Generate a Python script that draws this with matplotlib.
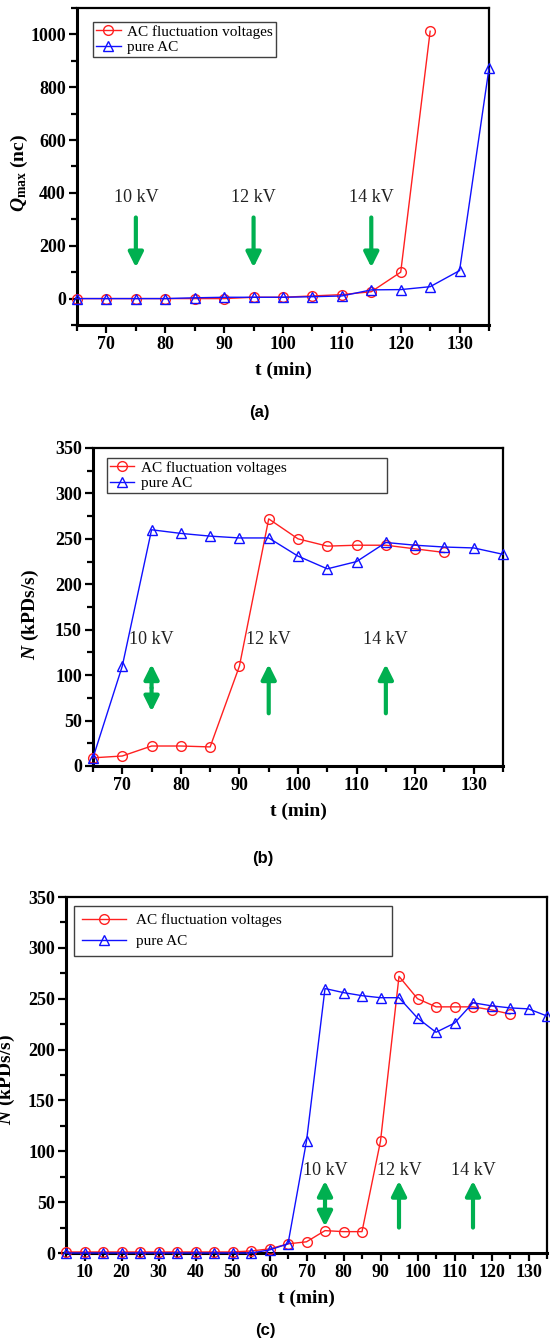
import numpy as np
import matplotlib as mpl
import matplotlib.pyplot as plt

# Data.
t_a_red = [65, 70, 75, 80, 85, 90, 95, 100, 105, 110, 115, 120, 125]
q_red = [0, 0, 0, 0, 0, 0, 5, 5, 10, 15, 26, 100, 1012]
t_a_blue = [65, 70, 75, 80, 85, 90, 95, 100, 105, 110, 115, 120, 125, 130, 135]
q_blue = [0, 0, 0, 0, 3, 5, 5, 5, 7, 10, 33, 34, 45, 106, 872]

t_b_red = [65, 70, 75, 80, 85, 90, 95, 100, 105, 110, 115, 120, 125]
n_b_red = [9, 11, 22, 22, 21, 110, 272, 250, 242, 243, 243, 239, 235]
t_b_blue = [65, 70, 75, 80, 85, 90, 95, 100, 105, 110, 115, 120, 125, 130, 135]
n_b_blue = [9, 110, 260, 256, 253, 251, 251, 231, 217, 225, 246, 243, 241, 240, 233]

t_c_red = list(range(5, 130, 5))
n_c_red = [1, 1, 1, 1, 1, 1, 1, 1, 1, 1, 2, 4, 9, 11, 22, 21, 21, 110, 272,
           250, 242, 242, 242, 239, 235]
t_c_blue = list(range(5, 140, 5))
n_c_blue = [0, 0, 0, 0, 0, 0, 0, 0, 0, 0, 0, 3, 9, 110, 260, 256, 253, 251,
            251, 231, 217, 226, 246, 243, 241, 240, 233]

kv_labels = ['10 kV', '12 kV', '14 kV']
kv_times = [75, 95, 115]

plt.rcParams['font.family'] = ['Liberation Serif', 'DejaVu Serif']
plt.rcParams['mathtext.fontset'] = 'custom'
plt.rcParams['mathtext.it'] = 'Liberation Serif:italic:bold'
plt.rcParams['mathtext.rm'] = 'Liberation Serif:bold'
plt.rcParams['mathtext.bf'] = 'Liberation Serif:bold'

W, H = 550, 1341
fig = plt.figure(figsize=(W / 100, H / 100), dpi=100)

GREEN = '#00b050'
RED = '#ff2020'
BLUE = '#1010ff'


def make_axes(left, right, top, bottom):
    return fig.add_axes([left / W, 1 - bottom / H, (right - left) / W, (bottom - top) / H])


def style(ax, xlim, ylim, xmaj, xmin, ymaj, ymin):
    ax.set_xlim(*xlim)
    ax.set_ylim(*ylim)
    ax.set_xticks(np.arange(xmaj[0], xmaj[1] + 1, xmaj[2]))
    ax.set_xticks(np.arange(xmin[0], xmin[1] + 1, xmin[2]), minor=True)
    ax.set_yticks(np.arange(ymaj[0], ymaj[1] + 1, ymaj[2]))
    ax.set_yticks(np.arange(ymin[0], ymin[1] + 1, ymin[2]), minor=True)
    for s in ['left', 'bottom']:
        ax.spines[s].set_linewidth(2.2)
    for s in ['top', 'right']:
        ax.spines[s].set_linewidth(1.6)
    ax.tick_params(which='both', direction='out', top=False, right=False, width=1.6)
    ax.tick_params(which='major', length=6, labelsize=13, pad=2)
    ax.tick_params(which='minor', length=4)
    for lab in ax.get_xticklabels() + ax.get_yticklabels():
        lab.set_fontweight('bold')
    ax.set_xlabel('t (min)', fontsize=14, fontweight='bold', labelpad=6)


def plot_pair(ax, tr, yr, tb, yb):
    ax.plot(tr, yr, color=RED, lw=1, marker='o', ms=7, mfc='none', mew=1,
            label='AC fluctuation voltages', clip_on=False, zorder=3)
    ax.plot(tb, yb, color=BLUE, lw=1, marker='^', ms=7, mfc='none', mew=1,
            label='pure AC', clip_on=False, zorder=4)


def legend(ax, x0, width, top, **kw):
    leg = ax.legend(loc='upper left', bbox_to_anchor=(x0, 0, width, top),
                    mode='expand', fontsize=11, fancybox=False, framealpha=1,
                    edgecolor='#404040', borderaxespad=0.0, **kw)
    leg.get_frame().set_linewidth(1.0)
    return leg


def arrow(ax, x, y0, y1, style='-|>'):
    ax.annotate('', xy=(x, y1), xytext=(x, y0),
                arrowprops=dict(arrowstyle=style, color=GREEN, lw=3,
                                mutation_scale=22, shrinkA=0, shrinkB=0))


# ---------- (a) ----------
ax = make_axes(77, 489, 8, 325)
plot_pair(ax, t_a_red, q_red, t_a_blue, q_blue)
style(ax, (65, 135), (-100, 1100), (70, 130, 10), (65, 135, 5), (0, 1000, 200), (-100, 1100, 100))
ax.set_ylabel(r'$Q_{\mathrm{max}}$ (nc)', fontsize=14, fontweight='bold')
ax.yaxis.set_label_coords(-0.114, 0.48)
legend(ax, 0.039, 0.444, 0.956, borderpad=0.2, labelspacing=0.1,
       handlelength=1.6, handletextpad=0.4)
for x, lab in zip(kv_times, kv_labels):
    ax.text(x, 383, lab, fontsize=13, ha='center', va='center', color='#222222')
    arrow(ax, x, 307, 118)
fig.text(259 / W, 1 - 413 / H, '(a)', fontsize=12, fontweight='bold',
         family='Liberation Sans', ha='center', va='center')

# ---------- (b) ----------
ax = make_axes(93, 503, 448, 766)
plot_pair(ax, t_b_red, n_b_red, t_b_blue, n_b_blue)
style(ax, (65, 135), (0, 350), (70, 130, 10), (65, 135, 5), (0, 350, 50), (0, 350, 25))
ax.set_ylabel(r'$N$ (kPDs/s)', fontsize=14, fontweight='bold')
ax.yaxis.set_label_coords(-0.127, 0.475)
legend(ax, 0.034, 0.683, 0.969, borderpad=0.2, labelspacing=0.1,
       handlelength=1.6, handletextpad=0.4)
for x, lab in zip(kv_times, kv_labels):
    ax.text(x, 139, lab, fontsize=13, ha='center', va='center', color='#222222')
arrow(ax, 75, 86, 112)
arrow(ax, 75, 86, 60)
arrow(ax, 95, 58, 112)
arrow(ax, 115, 58, 112)
fig.text(263 / W, 1 - 858 / H, '(b)', fontsize=12, fontweight='bold',
         family='Liberation Sans', ha='center', va='center')

# ---------- (c) ----------
ax = make_axes(66, 547, 897, 1253)
plot_pair(ax, t_c_red, n_c_red, t_c_blue, n_c_blue)
style(ax, (5, 135), (0, 350), (10, 130, 10), (5, 135, 5), (0, 350, 50), (0, 350, 25))
ax.set_ylabel(r'$N$ (kPDs/s)', fontsize=14, fontweight='bold')
ax.yaxis.set_label_coords(-0.102, 0.486)
legend(ax, 0.017, 0.661, 0.976, borderpad=0.5, labelspacing=0.5,
       handlelength=2.9, handletextpad=0.65)
for x, lab in zip(kv_times, kv_labels):
    ax.text(x, 81, lab, fontsize=13, ha='center', va='center', color='#222222')
arrow(ax, 75, 48, 71)
arrow(ax, 75, 48, 26)
arrow(ax, 95, 25, 71)
arrow(ax, 115, 25, 71)
fig.text(265 / W, 1 - 1330 / H, '(c)', fontsize=12, fontweight='bold',
         family='Liberation Sans', ha='center', va='center')

fig.savefig('out.png', dpi=100)
